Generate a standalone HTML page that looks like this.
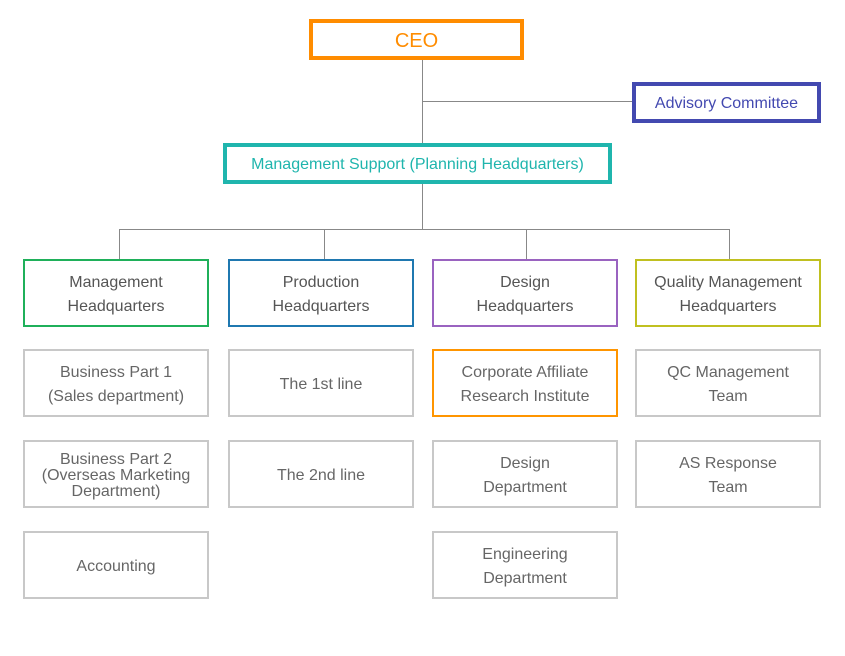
<!DOCTYPE html>
<html><head><meta charset="utf-8"><style>
html,body{margin:0;padding:0;background:#fff;width:845px;height:656px;overflow:hidden;position:relative;font-family:"Liberation Sans","Noto Sans CJK KR",sans-serif;}
.b{position:absolute;box-sizing:border-box;display:flex;align-items:center;justify-content:center;text-align:center;background:#fff;padding-top:3px;}
.l{position:absolute;background:#888;}
.hq{border:2px solid;color:#555;font-size:16px;line-height:24px;height:68px;width:186px;top:259px;}
.s{border:2px solid #c8c8c8;color:#666;font-size:16px;line-height:24px;height:68px;width:186px;}
</style></head><body>
<div class="l" style="left:422px;top:58px;width:1px;height:86px"></div>
<div class="l" style="left:422px;top:101px;width:212px;height:1px"></div>
<div class="l" style="left:422px;top:182px;width:1px;height:47px"></div>
<div class="l" style="left:119px;top:229px;width:611px;height:1px"></div>
<div class="l" style="left:119px;top:229px;width:1px;height:31px"></div>
<div class="l" style="left:324px;top:229px;width:1px;height:31px"></div>
<div class="l" style="left:526px;top:229px;width:1px;height:31px"></div>
<div class="l" style="left:729px;top:229px;width:1px;height:31px"></div>

<div class="b" style="left:309px;top:19px;width:215px;height:41px;border:4px solid #ff8c00;color:#ff8c00;font-size:20px;">CEO</div>
<div class="b" style="left:632px;top:82px;width:189px;height:41px;border:4px solid #4349b0;color:#4349b0;font-size:16px;">Advisory Committee</div>
<div class="b" style="left:223px;top:143px;width:389px;height:41px;border:4px solid #1fb5ad;color:#1fb5ad;font-size:16px;">Management Support (Planning Headquarters)</div>

<div class="b hq" style="left:23px;border-color:#1fb05a;">Management<br>Headquarters</div>
<div class="b hq" style="left:228px;border-color:#1f78b0;">Production<br>Headquarters</div>
<div class="b hq" style="left:432px;border-color:#9a63c0;">Design<br>Headquarters</div>
<div class="b hq" style="left:635px;border-color:#c0c020;">Quality Management<br>Headquarters</div>

<div class="b s" style="left:23px;top:349px;">Business Part 1<br>(Sales department)</div>
<div class="b s" style="left:23px;top:440px;line-height:16px;">Business Part 2<br>(Overseas Marketing<br>Department)</div>
<div class="b s" style="left:23px;top:531px;">Accounting</div>
<div class="b s" style="left:228px;top:349px;">The 1st line</div>
<div class="b s" style="left:228px;top:440px;">The 2nd line</div>
<div class="b s" style="left:432px;top:349px;border-color:#ff9500;">Corporate Affiliate<br>Research Institute</div>
<div class="b s" style="left:432px;top:440px;">Design<br>Department</div>
<div class="b s" style="left:432px;top:531px;">Engineering<br>Department</div>
<div class="b s" style="left:635px;top:349px;">QC Management<br>Team</div>
<div class="b s" style="left:635px;top:440px;">AS Response<br>Team</div>
</body></html>
